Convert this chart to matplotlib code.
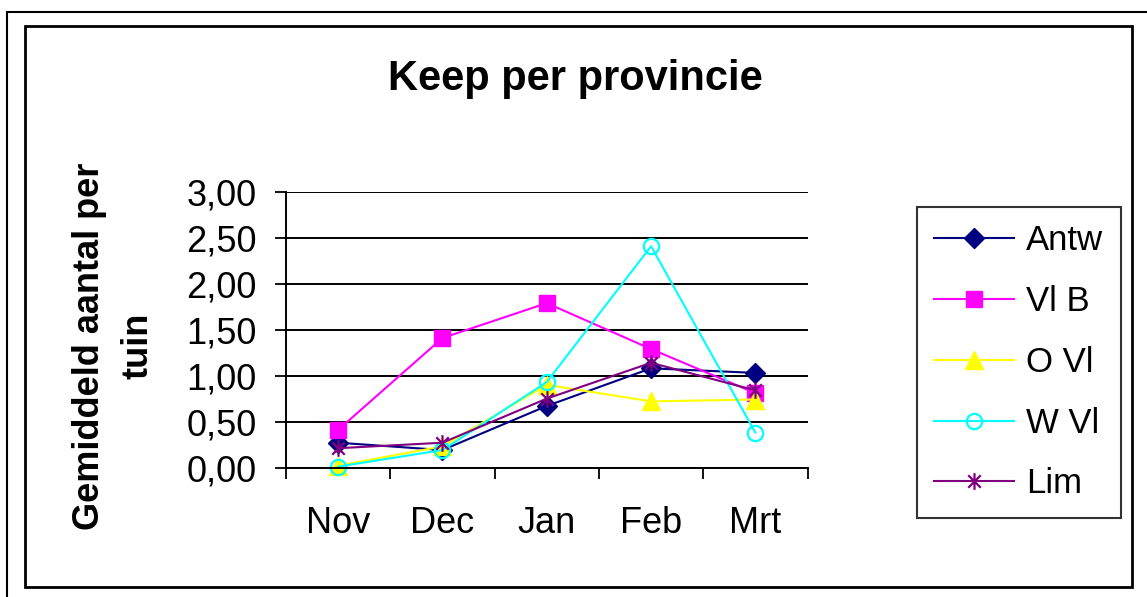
import matplotlib
matplotlib.use("Agg")
import matplotlib.pyplot as plt
from matplotlib.path import Path
from matplotlib.patches import Rectangle
from matplotlib.ticker import FuncFormatter, FixedLocator

plt.rcParams['font.family'] = ['Liberation Sans', 'DejaVu Sans']

months = ["Nov", "Dec", "Jan", "Feb", "Mrt"]
antw = [0.27, 0.19, 0.67, 1.08, 1.03]
vlb = [0.41, 1.41, 1.79, 1.29, 0.81]
ovl = [0.02, 0.23, 0.90, 0.72, 0.74]
wvl = [0.01, 0.19, 0.93, 2.41, 0.38]
lim = [0.21, 0.27, 0.75, 1.14, 0.84]
series_names = ["Antw", "Vl B", "O Vl", "W Vl", "Lim"]
yticks = [0.0, 0.5, 1.0, 1.5, 2.0, 2.5, 3.0]

W, H = 1147, 597
fig = plt.figure(figsize=(W / 100, H / 100), dpi=100)

def fx(px):
    return px / W

def fy(py):
    return 1 - py / H

left, right, top, bottom = 286, 807.5, 192, 467.5
ax = fig.add_axes([fx(left), fy(bottom), fx(right - left), (bottom - top) / H])

# asterisk marker: vertical line + X
star = Path([(0, -1), (0, 1), (-0.75, -0.75), (0.75, 0.75), (-0.75, 0.75), (0.75, -0.75)],
            [Path.MOVETO, Path.LINETO, Path.MOVETO, Path.LINETO, Path.MOVETO, Path.LINETO])

x = list(range(len(months)))
styles = [
    (antw, "#000080", "D", dict(markersize=10.5, markerfacecolor="#000080", markeredgecolor="#000080")),
    (vlb, "#FF00FF", "s", dict(markersize=11, markerfacecolor="#FF00FF", markeredgecolor="#FF00FF")),
    (ovl, "#FFFF00", "^", dict(markersize=12.5, markerfacecolor="#FFFF00", markeredgecolor="#FFFF00")),
    (wvl, "#00FFFF", "o", dict(markersize=11, markerfacecolor="none", markeredgecolor="#00FFFF", markeredgewidth=1.6)),
    (lim, "#800080", star, dict(markersize=12, markerfacecolor="none", markeredgecolor="#800080", markeredgewidth=1.6)),
]
handles = []
for (vals, col, mk, kw), name in zip(styles, series_names):
    h, = ax.plot(x, vals, color=col, marker=mk, linewidth=1.5, label=name, clip_on=False, **kw)
    handles.append(h)

ax.set_xlim(-0.5, len(months) - 0.5)
ax.set_ylim(0, 3)
ax.yaxis.set_major_locator(FixedLocator(yticks))
ax.yaxis.set_major_formatter(FuncFormatter(lambda v, p: f"{v:.2f}".replace(".", ",")))
ax.grid(axis='y', color='black', linewidth=1.4)
ax.set_axisbelow(True)

ax.xaxis.set_major_locator(FixedLocator([i - 0.5 for i in range(len(months) + 1)]))
ax.xaxis.set_minor_locator(FixedLocator(x))
ax.set_xticklabels([], minor=False)
ax.set_xticklabels(months, minor=True)
ax.tick_params(axis='x', which='major', direction='out', length=8, width=1.3, color='black')
ax.tick_params(axis='x', which='minor', length=0, pad=28, labelsize=26)
ax.tick_params(axis='y', direction='out', length=8, width=1.3, pad=13, labelsize=26)

for s in ['top', 'right']:
    ax.spines[s].set_visible(False)
for s in ['left', 'bottom']:
    ax.spines[s].set_linewidth(1.4)

fig.text(fx(575), fy(90), "Keep per provincie", ha='center', va='baseline',
         fontsize=30, fontweight='bold')
fig.text(fx(113.5), fy(346), "Gemiddeld aantal per\ntuin", ha='center', va='center',
         rotation=90, fontsize=26, fontweight='bold', multialignment='center', linespacing=1.5)

leg = ax.legend(handles=handles, loc='upper left', bbox_to_anchor=(fx(917), fy(207)),
                bbox_transform=fig.transFigure, fontsize=25, frameon=True, fancybox=False,
                edgecolor='black', handlelength=2.3, handletextpad=0.35, labelspacing=0.8,
                borderpad=0.5, borderaxespad=0, numpoints=1)
leg.get_frame().set_linewidth(1.5)

# borders
fig.patches.append(Rectangle((fx(7), fy(700)), fx(1300), (700 - 12) / H, transform=fig.transFigure,
                             fill=False, edgecolor='black', linewidth=1.5))
fig.patches.append(Rectangle((fx(25), fy(587)), fx(1132 - 25), (587 - 26) / H, transform=fig.transFigure,
                             fill=False, edgecolor='black', linewidth=2))

fig.savefig("out.png", dpi=100)
